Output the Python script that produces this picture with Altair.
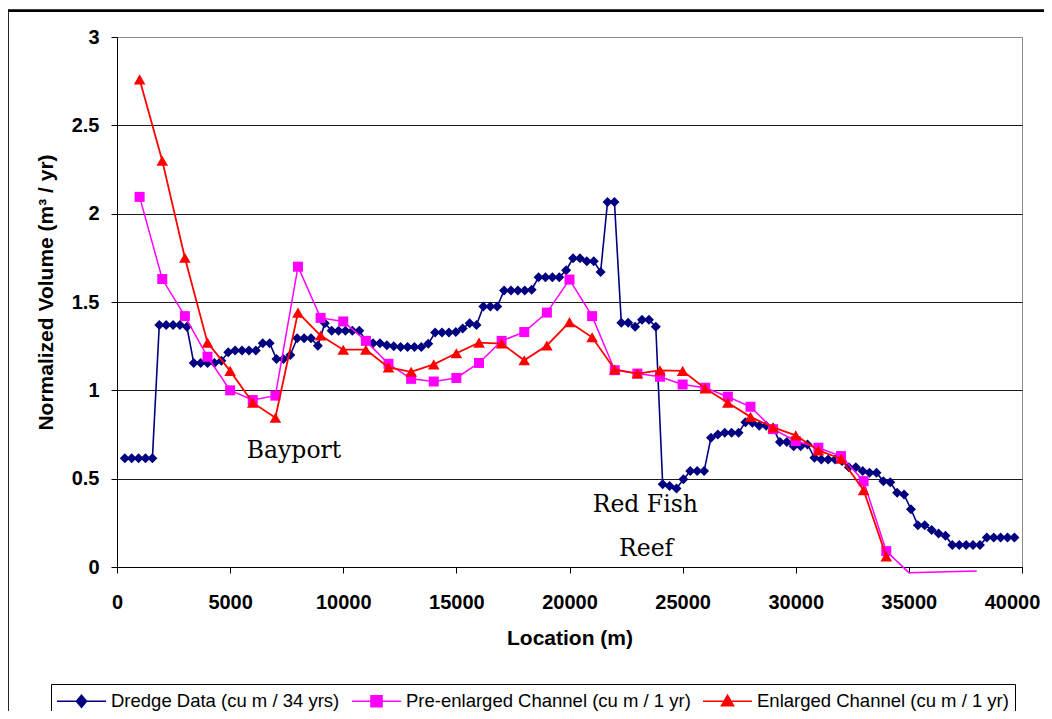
import altair as alt
import pandas as pd

# ---------------- data ----------------
series_names = [
    "Dredge Data (cu m / 34 yrs)",
    "Pre-enlarged Channel (cu m / 1 yr)",
    "Enlarged Channel (cu m / 1 yr)",
]
series_colors = ["#000080", "#FF00FF", "#FF0000"]

dredge_loc = [
    345, 650, 954, 1259, 1564, 1869, 2174, 2478, 2783, 3088,
    3393, 3698, 4002, 4307, 4612, 4917, 5222, 5526, 5831, 6136,
    6441, 6746, 7050, 7355, 7660, 7965, 8270, 8574, 8879, 9184,
    9489, 9794, 10098, 10403, 10708, 11013, 11318, 11622, 11927, 12232,
    12537, 12842, 13146, 13451, 13756, 14061, 14366, 14670, 14975, 15280,
    15585, 15890, 16194, 16499, 16804, 17109, 17414, 17718, 18023, 18328,
    18633, 18938, 19242, 19547, 19852, 20157, 20462, 20766, 21071, 21376,
    21681, 21986, 22290, 22595, 22900, 23205, 23510, 23814, 24119, 24424,
    24729, 25034, 25338, 25643, 25948, 26253, 26558, 26862, 27167, 27472,
    27777, 28082, 28386, 28691, 28996, 29301, 29606, 29910, 30215, 30520,
    30825, 31130, 31434, 31739, 32044, 32349, 32654, 32958, 33263, 33568,
    33873, 34178, 34482, 34787, 35092, 35397, 35702, 36006, 36311, 36616,
    36921, 37226, 37530, 37835, 38140, 38445, 38750, 39054, 39359, 39664,
]
dredge_val = [
    0.615, 0.615, 0.615, 0.615, 0.615, 1.37, 1.37, 1.37, 1.37, 1.36,
    1.155, 1.155, 1.155, 1.155, 1.167, 1.215, 1.225, 1.225, 1.225, 1.225,
    1.267, 1.267, 1.177, 1.177, 1.20, 1.295, 1.295, 1.295, 1.252, 1.38,
    1.337, 1.337, 1.337, 1.337, 1.337, 1.28, 1.267, 1.267, 1.255, 1.25,
    1.245, 1.245, 1.245, 1.245, 1.263, 1.327, 1.327, 1.327, 1.33, 1.35,
    1.38, 1.37, 1.474, 1.474, 1.474, 1.565, 1.565, 1.565, 1.565, 1.57,
    1.64, 1.64, 1.64, 1.64, 1.68, 1.747, 1.747, 1.73, 1.73, 1.67,
    2.066, 2.066, 1.383, 1.383, 1.36, 1.40, 1.40, 1.36, 0.468, 0.459,
    0.444, 0.496, 0.543, 0.543, 0.543, 0.731, 0.75, 0.76, 0.76, 0.76,
    0.82, 0.816, 0.80, 0.80, 0.788, 0.707, 0.707, 0.684, 0.684, 0.694,
    0.619, 0.609, 0.609, 0.609, 0.60, 0.565, 0.565, 0.543, 0.534, 0.534,
    0.485, 0.48, 0.42, 0.41, 0.327, 0.237, 0.237, 0.21, 0.19, 0.177,
    0.124, 0.124, 0.124, 0.124, 0.124, 0.167, 0.167, 0.167, 0.167, 0.167,
]

pre_loc = [
    1000, 2000, 3000, 4000, 5000, 6000, 7000, 8000, 9000, 10000,
    11000, 12000, 13000, 14000, 15000, 16000, 17000, 18000, 19000, 20000,
    21000, 22000, 23000, 24000, 25000, 26000, 27000, 28000, 29000, 30000,
    31000, 32000, 33000, 34000, 35000, 38000,
]
pre_val = [
    2.095, 1.63, 1.42, 1.19, 1.00, 0.945, 0.97, 1.70, 1.41, 1.39,
    1.28, 1.15, 1.065, 1.05, 1.07, 1.155, 1.28, 1.33, 1.44, 1.627,
    1.42, 1.114, 1.095, 1.077, 1.033, 1.015, 0.964, 0.907, 0.78, 0.713,
    0.675, 0.628, 0.486, 0.09, -0.032, -0.023,
]

enl_loc = [
    1000, 2000, 3000, 4000, 5000, 6000, 7000, 8000, 9000, 10000,
    11000, 12000, 13000, 14000, 15000, 16000, 17000, 18000, 19000, 20000,
    21000, 22000, 23000, 24000, 25000, 26000, 27000, 28000, 29000, 30000,
    31000, 32000, 33000, 34000,
]
enl_val = [
    2.76, 2.30, 1.75, 1.27, 1.11, 0.93, 0.845, 1.44, 1.31, 1.23,
    1.23, 1.13, 1.105, 1.147, 1.21, 1.27, 1.265, 1.17, 1.254, 1.386,
    1.30, 1.118, 1.095, 1.113, 1.11, 1.01, 0.93, 0.85, 0.79, 0.745,
    0.66, 0.613, 0.435, 0.06,
]

ann_text = ["Bayport", "Red Fish", "Reef"]
ann_x = [7823, 23350, 23390]
ann_y = [0.617, 0.31, 0.064]

x_ticks = [0, 5000, 10000, 15000, 20000, 25000, 30000, 35000, 40000]
y_ticks = [0, 0.5, 1, 1.5, 2, 2.5, 3]

# ---------------- frames ----------------
dredge_df = pd.DataFrame({"loc": dredge_loc, "val": dredge_val})
pre_df = pd.DataFrame({"loc": pre_loc, "val": pre_val})
enl_df = pd.DataFrame({"loc": enl_loc, "val": enl_val})
ann_df = pd.DataFrame({"loc": ann_x, "val": ann_y, "text": ann_text})
legend_df = pd.DataFrame({"series": series_names})

# ---------------- scales / axes ----------------
xscale = alt.Scale(domain=[0, 40000], nice=False, zero=False)
yscale = alt.Scale(domain=[0, 3], nice=False)

x_axis = alt.Axis(
    values=x_ticks, format="d", title="Location (m)", grid=False,
    labelFlush=False, labelOverlap=False, labelBaseline="alphabetic", labelPadding=35,
    labelOffset={"condition": {"test": "datum.value == 40000", "value": -10}, "value": 0},
    titleX=452.5, titleY=77, titleAlign="center", titleBaseline="alphabetic",
)
y_axis = alt.Axis(
    values=y_ticks, format="~g", title="Normalized Volume (m³ / yr)",
    labelFlush=False, labelOverlap=False, labelPadding=12,
    titleX=-65, titleY=255, titleAlign="center", titleBaseline="alphabetic", titleAngle=270,
    gridColor={"condition": {"test": "datum.value == 3", "value": "#8a8a8a"}, "value": "#1a1a1a"},
)

# legend symbols: a line segment with the series marker on it (unit = 10 px),
# drawn to the right of the symbol origin so nothing pokes out of the legend box
diamond_path = "M-1.1,0L3.8,0M1.35,-0.6L1.85,0L1.35,0.6L0.85,0Z"
square_path = "M-1.1,0L3.8,0M0.8,-0.55L1.9,-0.55L1.9,0.55L0.8,0.55Z"
triangle_path = "M-1.1,0L3.8,0M1.35,-0.6L1.95,0.45L0.75,0.45Z"

legend = alt.Legend(
    title=None, orient="none", legendX=-66, legendY=647, direction="horizontal",
    symbolSize=400, symbolStrokeWidth=1.6,
    labelFont="Liberation Sans", labelFontSize=18.5, labelColor="black", labelLimit=500,
    labelOffset=32, columnPadding=8, padding=6,
    strokeColor="black", fillColor="white",
)

x_enc = alt.X("loc:Q", scale=xscale, axis=x_axis)
y_enc = alt.Y("val:Q", scale=yscale, axis=y_axis)


def series_layers(df, stroke_w, shape, size, color):
    line = alt.Chart(df).mark_line(strokeWidth=stroke_w, clip=False, color=color).encode(
        x=x_enc, y=y_enc, order="loc:Q"
    )
    pts = alt.Chart(df).transform_filter("datum.val >= 0").mark_point(
        shape=shape, size=size, filled=True, opacity=1, strokeWidth=0, color=color
    ).encode(x=x_enc, y=y_enc)
    return [line, pts]


frame = alt.Chart(alt.Data(values=[{"a": 1}])).mark_rect(
    fill="transparent", stroke="black", strokeWidth=2.7, clip=False
).encode(
    x=alt.value(-109.5), x2=alt.value(1200), y=alt.value(-26.3), y2=alt.value(900)
)

legend_layer = alt.Chart(legend_df).transform_filter("false").mark_point(
    filled=True, opacity=1
).encode(
    color=alt.Color("series:N", scale=alt.Scale(domain=series_names, range=series_colors), legend=legend),
    stroke=alt.Stroke("series:N", scale=alt.Scale(domain=series_names, range=series_colors), legend=legend),
    shape=alt.Shape("series:N", scale=alt.Scale(domain=series_names,
                                                range=[diamond_path, square_path, triangle_path]), legend=legend),
)

texts = alt.Chart(ann_df).mark_text(
    font="DejaVu Serif", fontSize=23.5, color="black", align="center", baseline="alphabetic"
).encode(x=x_enc, y=y_enc, text="text:N")

layers = [frame]
layers += series_layers(dredge_df, 1.6, "diamond", 100, series_colors[0])
layers += series_layers(pre_df, 1.5, "square", 100, series_colors[1])
layers += series_layers(enl_df, 1.8, "triangle-up", 135, series_colors[2])
layers.append(texts)
layers.append(legend_layer)

chart = alt.layer(*layers).properties(
    width=905,
    height=530,
    autosize=alt.AutoSizeParams(type="none"),
    padding={"left": 109, "top": 29, "right": 22, "bottom": 144},
    background="white",
).configure_view(
    stroke="#8a8a8a", strokeWidth=1
).configure_axis(
    labelFont="Liberation Sans", labelFontWeight="bold", labelFontSize=20, labelColor="black",
    titleFont="Liberation Sans", titleFontWeight="bold", titleFontSize=21, titleColor="black",
    domainColor="black", domainWidth=1, tickColor="black", tickSize=6, tickWidth=1,
    gridWidth=1,
)

chart.save("out.html", embed_options={"renderer": "svg", "actions": False})
